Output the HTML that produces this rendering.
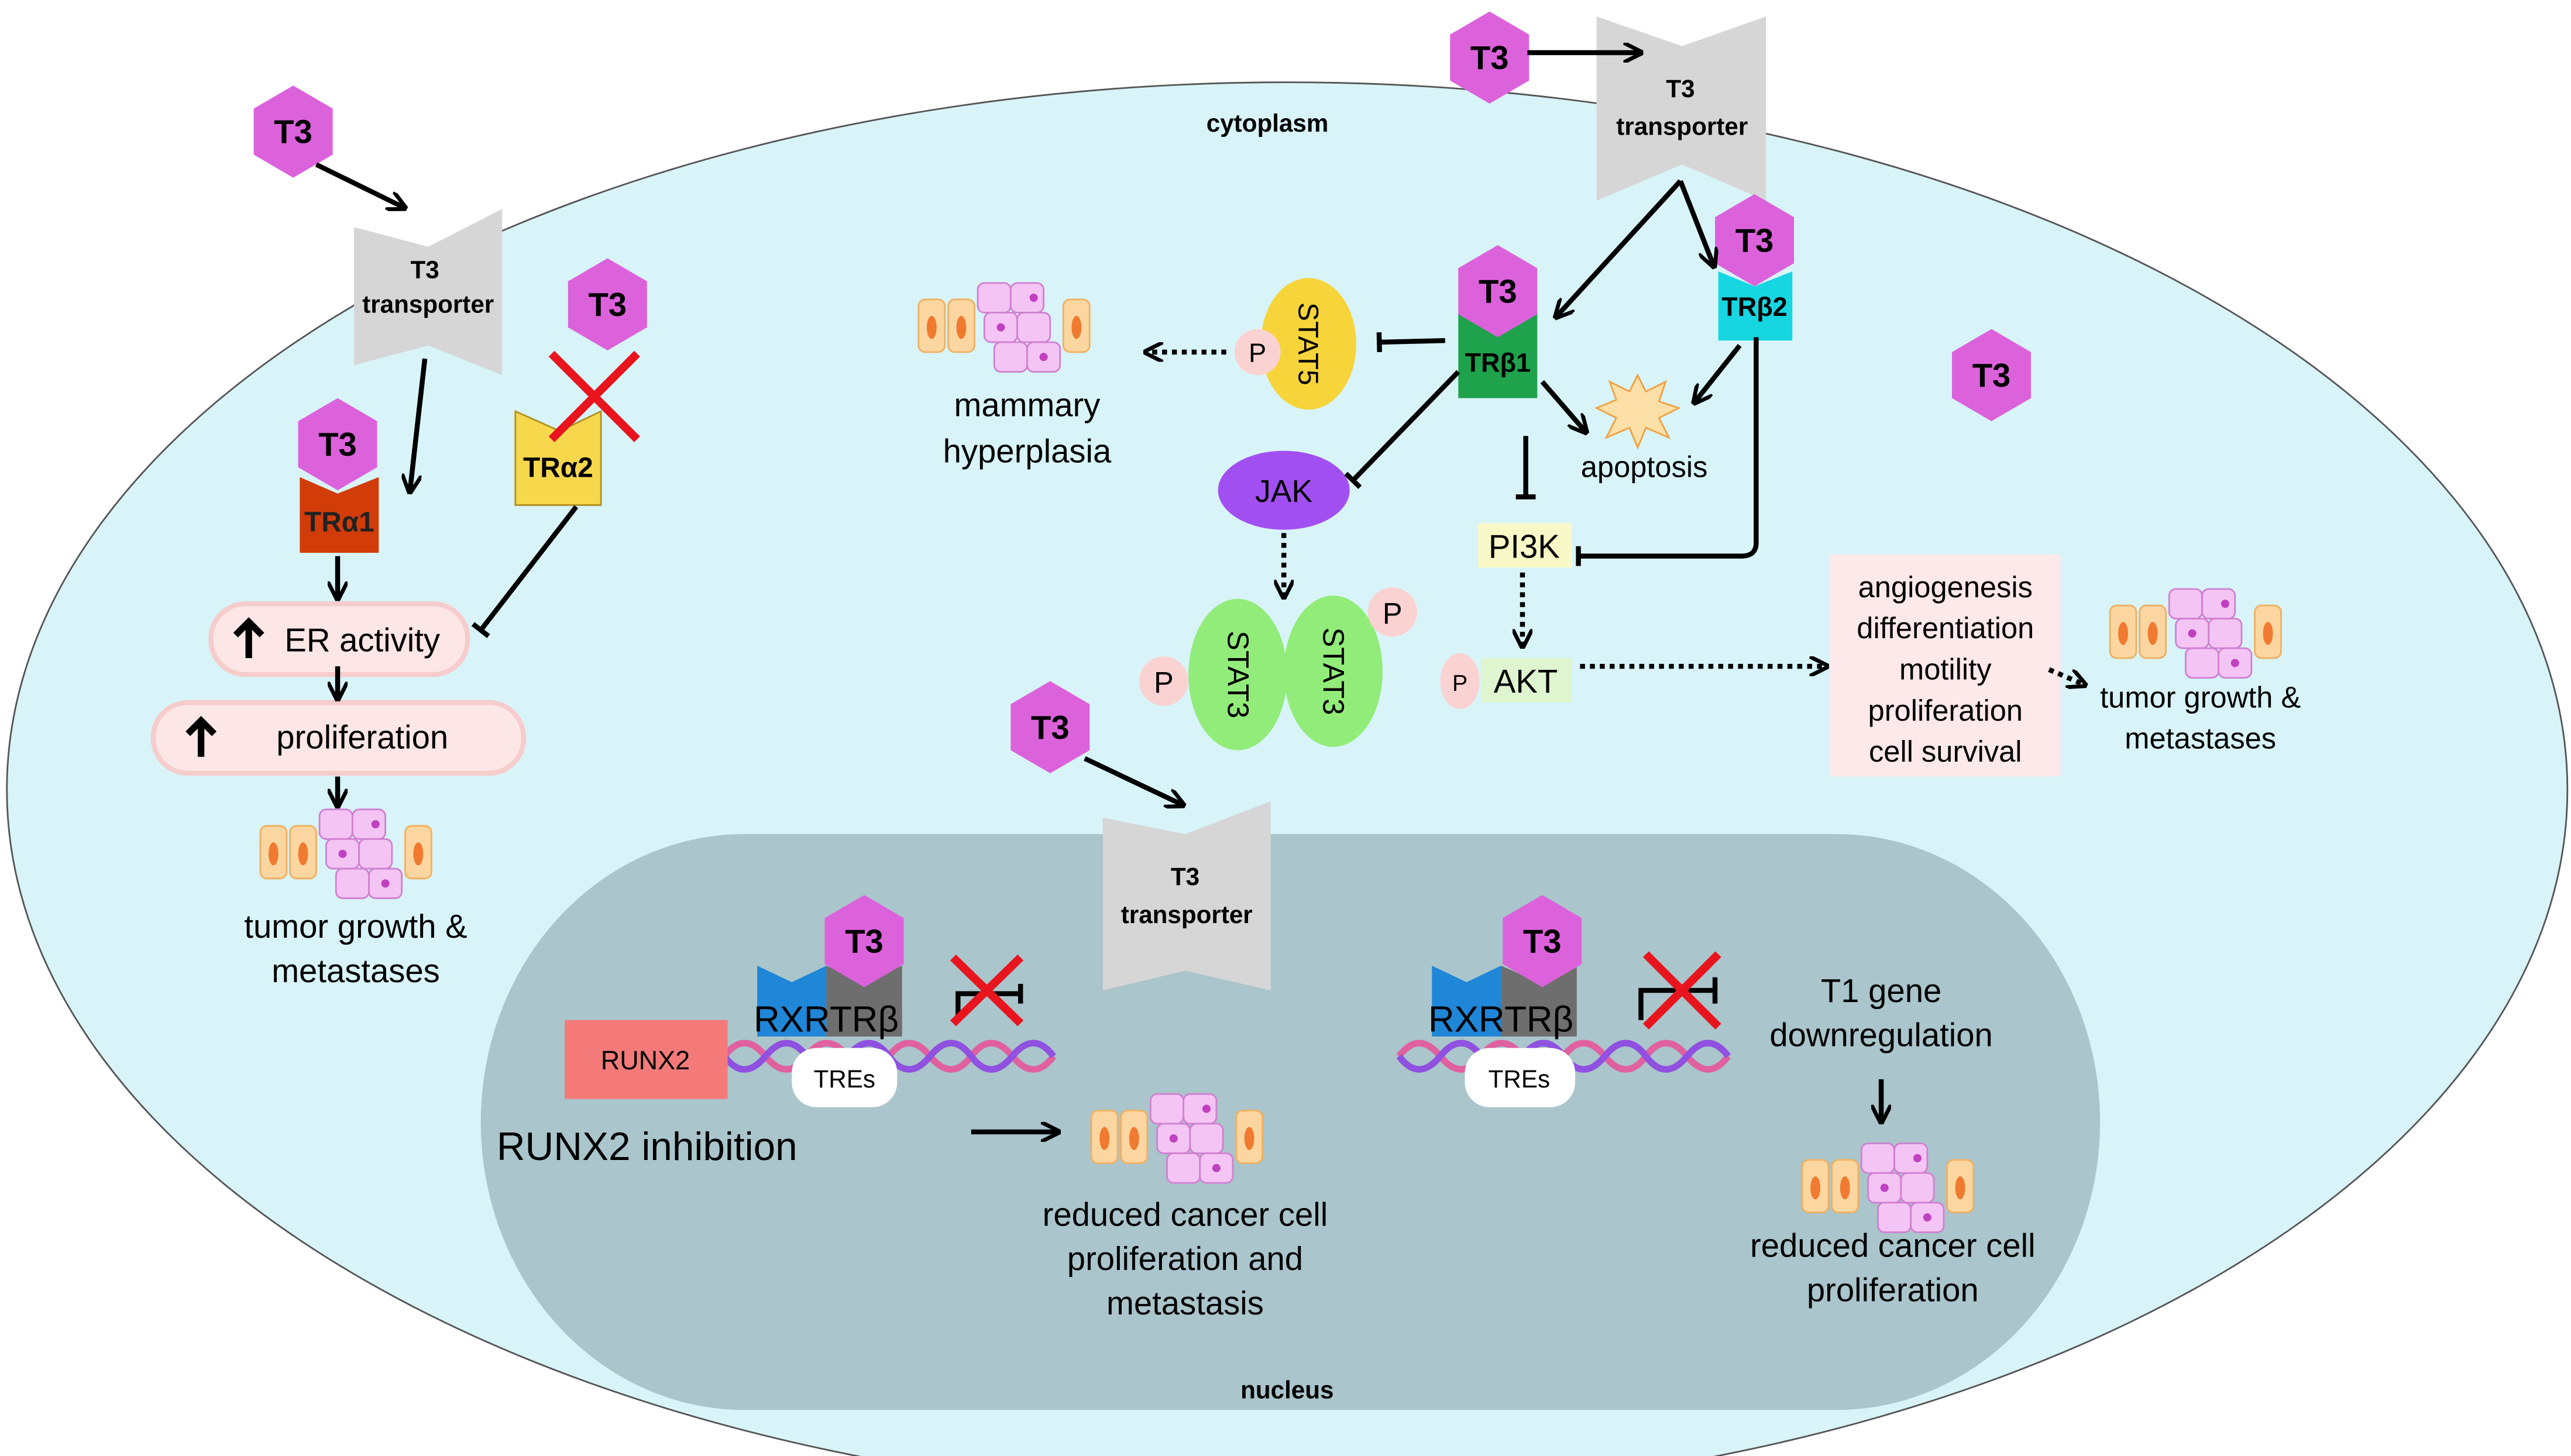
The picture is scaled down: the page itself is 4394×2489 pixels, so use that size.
<!DOCTYPE html>
<html><head><meta charset="utf-8"><style>
html,body{margin:0;padding:0;background:#fff;}
svg{display:block;}
text{font-family:"Liberation Sans",sans-serif;}
</style></head><body>
<svg width="4394" height="2489" viewBox="0 0 1562 885" xmlns="http://www.w3.org/2000/svg">
<defs>
<marker id="ah" viewBox="0 0 10 10" refX="8" refY="5" markerWidth="4" markerHeight="4" orient="auto"><path d="M0,0 L10,5 L0,10" fill="none" stroke="#000" stroke-width="2"/></marker>
<marker id="bar" viewBox="0 0 10 10" refX="5" refY="5" markerWidth="4" markerHeight="4" orient="auto"><path d="M5,0 L5,10" stroke="#000" stroke-width="2.5"/></marker>
<g id="hex"><polygon points="0,-28 24,-14 24,14 0,28 -24,14 -24,-14" fill="#dc62dc"/></g>
<g id="up"><path d="M0,-11 L0,11 M-8,-3 L0,-11 L8,-3" stroke="#000" stroke-width="4" fill="none"/></g>
<g id="cells">
<rect x="0" y="10" width="16" height="32" rx="4" fill="#fbd6a0" stroke="#f0b060"/>
<ellipse cx="8" cy="27" rx="3" ry="7" fill="#f07a30"/>
<rect x="18" y="10" width="16" height="32" rx="4" fill="#fbd6a0" stroke="#f0b060"/>
<ellipse cx="26" cy="27" rx="3" ry="7" fill="#f07a30"/>
<rect x="36" y="0" width="20" height="18" rx="4" fill="#f4c4f4" stroke="#d080d0"/>
<rect x="56" y="0" width="20" height="18" rx="4" fill="#f4c4f4" stroke="#d080d0"/>
<rect x="40" y="18" width="20" height="18" rx="4" fill="#f4c4f4" stroke="#d080d0"/>
<rect x="60" y="18" width="20" height="18" rx="4" fill="#f4c4f4" stroke="#d080d0"/>
<rect x="46" y="36" width="20" height="18" rx="4" fill="#f4c4f4" stroke="#d080d0"/>
<rect x="66" y="36" width="20" height="18" rx="4" fill="#f4c4f4" stroke="#d080d0"/>
<circle cx="50" cy="27" r="2.5" fill="#c040c0"/><circle cx="70" cy="9" r="2.5" fill="#c040c0"/><circle cx="76" cy="45" r="2.5" fill="#c040c0"/>
<rect x="88" y="10" width="16" height="32" rx="4" fill="#fbd6a0" stroke="#f0b060"/>
<ellipse cx="96" cy="27" rx="3" ry="7" fill="#f07a30"/>
</g>
</defs>
<rect width="1562" height="885" fill="#fff"/>
<ellipse cx="782" cy="480" rx="778" ry="430" fill="#d8f4f9" stroke="#555" stroke-width="1"/>
<rect x="292" y="507" width="984" height="350" rx="160" ry="175" fill="#aac5cb"/>
<text x="770" y="80" font-size="15" font-weight="bold" text-anchor="middle">cytoplasm</text>
<text x="782" y="850" font-size="15" font-weight="bold" text-anchor="middle">nucleus</text>

<g fill="#d6d6d6">
<polygon points="215,138 260,150 305,127 305,228 260,210 215,222"/>
<polygon points="970,10 1022,28 1073,10 1073,122 1022,100 970,122"/>
<polygon points="670,497 720,507 772,487 772,602 720,590 670,602"/>
</g>
<g font-size="15" font-weight="bold" text-anchor="middle">
<text x="258" y="169">T3</text><text x="260" y="190">transporter</text>
<text x="1021" y="59">T3</text><text x="1022" y="82">transporter</text>
<text x="720" y="538">T3</text><text x="721" y="561">transporter</text>
</g>

<polygon points="182,290 205,300 230,290 230,336 182,336" fill="#d23c08"/>
<text x="206" y="323" font-size="17" font-weight="bold" text-anchor="middle" fill="#222">TRα1</text>
<polygon points="313,250 340,262 365,250 365,307 313,307" fill="#f7d84c" stroke="#b09020"/>
<text x="339" y="290" font-size="17" font-weight="bold" text-anchor="middle">TRα2</text>
<polygon points="886,190 910,200 934,190 934,242 886,242" fill="#1fa24c"/>
<text x="910" y="226" font-size="16" font-weight="bold" text-anchor="middle">TRβ1</text>
<polygon points="1044,165 1066,174 1089,165 1089,207 1044,207" fill="#16d6e2"/>
<text x="1066" y="192" font-size="16" font-weight="bold" text-anchor="middle">TRβ2</text>

<g font-size="20" font-weight="bold" text-anchor="middle">
<use href="#hex" x="178" y="80"/><text x="178" y="87">T3</text>
<use href="#hex" x="905" y="35"/><text x="905" y="42">T3</text>
<use href="#hex" x="369" y="185"/><text x="369" y="192">T3</text>
<use href="#hex" x="205" y="270"/><text x="205" y="277">T3</text>
<use href="#hex" x="910" y="177"/><text x="910" y="184">T3</text>
<use href="#hex" x="1066" y="146"/><text x="1066" y="153">T3</text>
<use href="#hex" x="1210" y="228"/><text x="1210" y="235">T3</text>
<use href="#hex" x="638" y="442"/><text x="638" y="449">T3</text>
</g>

<g stroke="#e8141e" stroke-width="5"><line x1="335" y1="215" x2="387" y2="267"/><line x1="387" y1="215" x2="335" y2="267"/></g>

<rect x="128" y="367" width="156" height="43" rx="21" fill="#fde6e6" stroke="#f6cccc" stroke-width="3"/>
<use href="#up" x="151" y="389"/>
<text x="220" y="396" font-size="20" text-anchor="middle">ER activity</text>
<rect x="93" y="427" width="225" height="43" rx="21" fill="#fde6e6" stroke="#f6cccc" stroke-width="3"/>
<use href="#up" x="122" y="449"/>
<text x="220" y="455" font-size="20" text-anchor="middle">proliferation</text>

<use href="#cells" x="158" y="492"/>
<text x="216" y="570" font-size="20" text-anchor="middle">tumor growth &amp;</text>
<text x="216" y="597" font-size="20" text-anchor="middle">metastases</text>
<use href="#cells" x="558" y="172"/>
<text x="624" y="253" font-size="20" text-anchor="middle">mammary</text>
<text x="624" y="281" font-size="20" text-anchor="middle">hyperplasia</text>
<use href="#cells" x="1282" y="358"/>
<text x="1337" y="430" font-size="18" text-anchor="middle">tumor growth &amp;</text>
<text x="1337" y="455" font-size="18" text-anchor="middle">metastases</text>

<ellipse cx="795" cy="209" rx="29" ry="40" fill="#f7d43a"/>
<text x="795" y="209" font-size="17" text-anchor="middle" transform="rotate(90 795 209)" dy="6">STAT5</text>
<circle cx="764" cy="214" r="14" fill="#fbd2d2"/><text x="764" y="220" font-size="16" text-anchor="middle">P</text>
<ellipse cx="780" cy="298" rx="40" ry="24" fill="#a24ff2"/>
<text x="780" y="305" font-size="19" text-anchor="middle">JAK</text>
<ellipse cx="752" cy="410" rx="30" ry="46" fill="#92ec7a"/>
<ellipse cx="810" cy="408" rx="30" ry="46" fill="#92ec7a"/>
<text x="752" y="410" font-size="18" text-anchor="middle" transform="rotate(90 752 410)" dy="6">STAT3</text>
<text x="810" y="408" font-size="18" text-anchor="middle" transform="rotate(90 810 408)" dy="6">STAT3</text>
<circle cx="707" cy="414" r="15" fill="#fbd2d2"/><text x="707" y="421" font-size="18" text-anchor="middle">P</text>
<circle cx="846" cy="372" r="15" fill="#fbd2d2"/><text x="846" y="379" font-size="18" text-anchor="middle">P</text>
<rect x="898" y="318" width="57" height="27" fill="#f9f9c8"/><text x="926" y="339" font-size="20" text-anchor="middle">PI3K</text>
<rect x="900" y="400" width="55" height="27" fill="#dff5cf"/><text x="927" y="421" font-size="20" text-anchor="middle">AKT</text>
<ellipse cx="887" cy="414" rx="12" ry="17" fill="#fbd2d2"/><text x="887" y="420" font-size="14" text-anchor="middle">P</text>
<polygon points="995,228 1000,238 1012,232 1008,244 1020,248 1008,254 1014,266 1000,260 995,272 990,260 976,266 982,254 970,248 982,243 978,232 990,238" fill="#fde0a8" stroke="#f0a040"/>
<text x="999" y="290" font-size="18" text-anchor="middle">apoptosis</text>
<rect x="1112" y="337" width="140" height="135" fill="#fde8ea"/>
<g font-size="18" text-anchor="middle"><text x="1182" y="363">angiogenesis</text><text x="1182" y="388">differentiation</text><text x="1182" y="413">motility</text><text x="1182" y="438">proliferation</text><text x="1182" y="463">cell survival</text></g>

<g stroke="#000" stroke-width="3" fill="none">
<line x1="192" y1="100" x2="245" y2="126" marker-end="url(#ah)"/>
<line x1="258" y1="218" x2="249" y2="298" marker-end="url(#ah)"/>
<line x1="205" y1="338" x2="205" y2="363" marker-end="url(#ah)"/>
<line x1="205" y1="405" x2="205" y2="424" marker-end="url(#ah)"/>
<line x1="205" y1="472" x2="205" y2="489" marker-end="url(#ah)"/>
<line x1="350" y1="308" x2="292" y2="383" marker-end="url(#bar)"/>
<line x1="928" y1="32" x2="996" y2="32" marker-end="url(#ah)"/>
<line x1="1021" y1="110" x2="946" y2="192" marker-end="url(#ah)"/>
<line x1="1021" y1="110" x2="1041" y2="161" marker-end="url(#ah)"/>
<line x1="878" y1="207" x2="838" y2="208" marker-end="url(#bar)"/>
<line x1="886" y1="226" x2="822" y2="292" marker-end="url(#bar)"/>
<line x1="937" y1="232" x2="963" y2="262" marker-end="url(#ah)"/>
<line x1="1057" y1="210" x2="1030" y2="244" marker-end="url(#ah)"/>
<line x1="927" y1="265" x2="927" y2="302" marker-end="url(#bar)"/>
<path d="M1067,205 L1067,330 Q1067,338 1058,338 L959,338" marker-end="url(#bar)"/>
<line x1="659" y1="461" x2="718" y2="489" marker-end="url(#ah)"/>
<line x1="590" y1="688" x2="642" y2="688" marker-end="url(#ah)"/>
<line x1="1143" y1="656" x2="1143" y2="681" marker-end="url(#ah)"/>
</g>
<g stroke="#000" stroke-width="3" fill="none" stroke-dasharray="3,3">
<line x1="745" y1="214" x2="697" y2="214" marker-end="url(#ah)"/>
<line x1="780" y1="324" x2="780" y2="362" marker-end="url(#ah)"/>
<line x1="925" y1="348" x2="925" y2="392" marker-end="url(#ah)"/>
<line x1="960" y1="405" x2="1109" y2="405" marker-end="url(#ah)"/>
<line x1="1245" y1="407" x2="1266" y2="416" marker-end="url(#ah)"/>
</g>

<g fill="none" stroke-width="4">
<path d="M440,642 q12,-16 25,0 t25,0 t25,0 t25,0 t25,0 t25,0 t25,0 t25,0" stroke="#e060a0"/>
<path d="M440,642 q12,16 25,0 t25,0 t25,0 t25,0 t25,0 t25,0 t25,0 t25,0" stroke="#9050e0"/>
<path d="M850,642 q12,-16 25,0 t25,0 t25,0 t25,0 t25,0 t25,0 t25,0 t25,0" stroke="#e060a0"/>
<path d="M850,642 q12,16 25,0 t25,0 t25,0 t25,0 t25,0 t25,0 t25,0 t25,0" stroke="#9050e0"/>
</g>
<polygon points="460,587 481,597 502,587 502,630 460,630" fill="#1f86d8"/>
<polygon points="502,587 525,597 548,587 548,630 502,630" fill="#6e6e6e"/>
<text x="481" y="627" font-size="22" text-anchor="middle">RXR</text>
<text x="525" y="627" font-size="22" text-anchor="middle">TRβ</text>
<polygon points="870,587 891,597 912,587 912,630 870,630" fill="#1f86d8"/>
<polygon points="912,587 935,597 958,587 958,630 912,630" fill="#6e6e6e"/>
<text x="891" y="627" font-size="22" text-anchor="middle">RXR</text>
<text x="935" y="627" font-size="22" text-anchor="middle">TRβ</text>
<g font-size="20" font-weight="bold" text-anchor="middle">
<use href="#hex" x="525" y="572"/><text x="525" y="579">T3</text>
<use href="#hex" x="937" y="572"/><text x="937" y="579">T3</text>
</g>
<rect x="481" y="637" width="64" height="36" rx="15" fill="#fff"/><text x="513" y="661" font-size="15" text-anchor="middle">TREs</text>
<rect x="890" y="637" width="67" height="36" rx="15" fill="#fff"/><text x="923" y="661" font-size="15" text-anchor="middle">TREs</text>
<g stroke="#000" stroke-width="3" fill="none">
<path d="M582,620 L582,604 L620,604 L620,598 M620,610 L620,598"/>
<path d="M997,620 L997,602 L1042,602 M1042,594 L1042,610"/>
</g>
<g stroke="#e8141e" stroke-width="5">
<line x1="579" y1="582" x2="620" y2="622"/><line x1="620" y1="582" x2="579" y2="622"/>
<line x1="1000" y1="580" x2="1044" y2="624"/><line x1="1044" y1="580" x2="1000" y2="624"/>
</g>
<rect x="343" y="620" width="99" height="48" fill="#f47a7a"/>
<text x="392" y="650" font-size="16" text-anchor="middle">RUNX2</text>
<text x="393" y="705" font-size="24" text-anchor="middle">RUNX2 inhibition</text>
<use href="#cells" x="663" y="665"/>
<text x="720" y="745" font-size="20" text-anchor="middle">reduced cancer cell</text>
<text x="720" y="772" font-size="20" text-anchor="middle">proliferation and</text>
<text x="720" y="799" font-size="20" text-anchor="middle">metastasis</text>
<text x="1143" y="609" font-size="20" text-anchor="middle">T1 gene</text>
<text x="1143" y="636" font-size="20" text-anchor="middle">downregulation</text>
<use href="#cells" x="1095" y="695"/>
<text x="1150" y="764" font-size="20" text-anchor="middle">reduced cancer cell</text>
<text x="1150" y="791" font-size="20" text-anchor="middle">proliferation</text>
</svg>
</body></html>
